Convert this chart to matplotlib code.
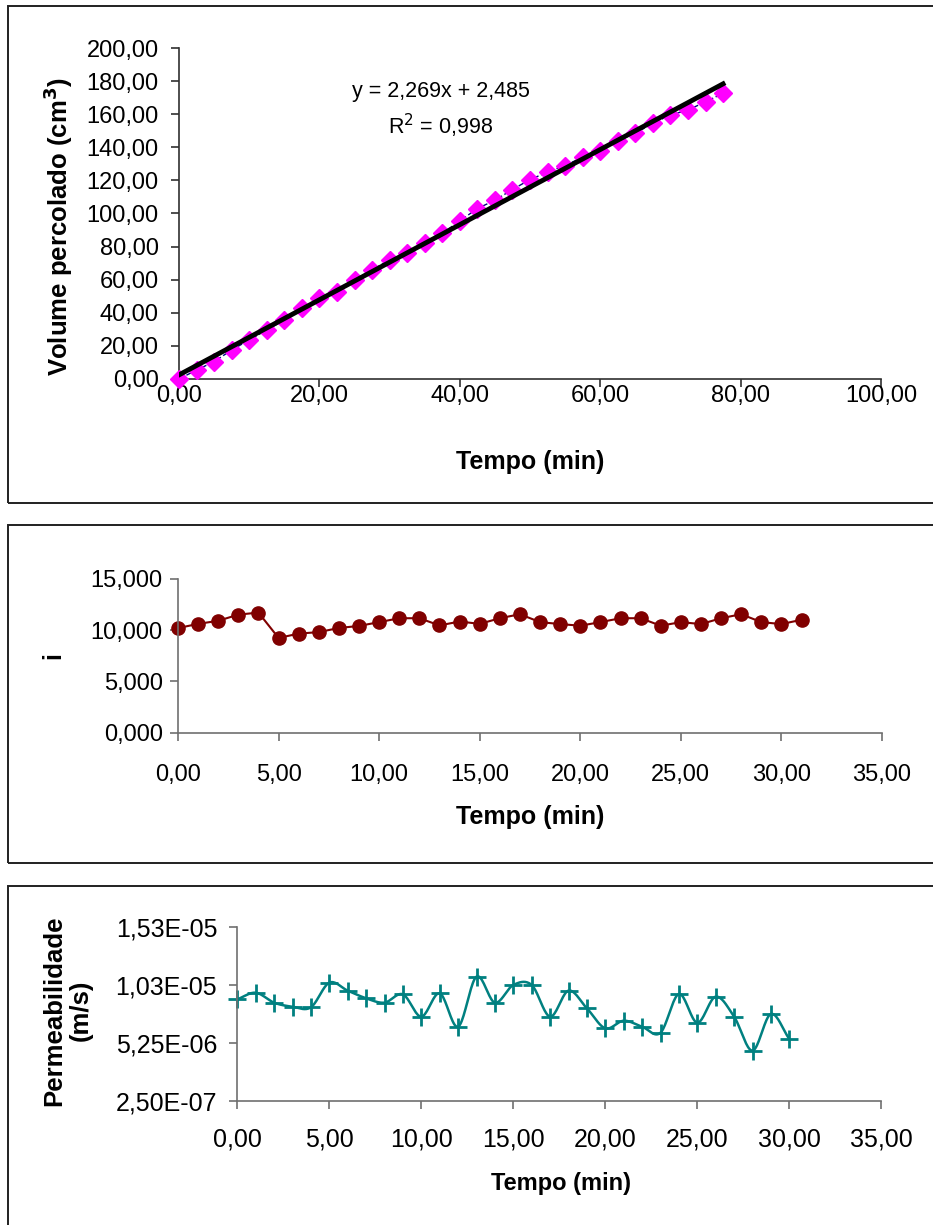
import numpy as np
import matplotlib.pyplot as plt
from matplotlib.patches import Rectangle
from matplotlib.ticker import FuncFormatter, MultipleLocator

plt.rcParams['font.family'] = ['Liberation Sans', 'DejaVu Sans']

# Volume percolado x tempo
tempo_vol = [0.0, 2.5, 5.0, 7.5, 10.0, 12.5, 15.0, 17.5, 20.0, 22.5, 25.0, 27.5,
             30.0, 32.5, 35.0, 37.5, 40.0, 42.5, 45.0, 47.5, 50.0, 52.5, 55.0,
             57.5, 60.0, 62.5, 65.0, 67.5, 70.0, 72.5, 75.0, 77.5]
volume = [0.0, 5.4, 10.5, 17.5, 23.6, 29.6, 35.6, 42.7, 48.8, 52.8, 59.8, 65.9,
          71.9, 75.9, 82.0, 88.0, 95.5, 103.0, 108.0, 114.5, 120.5, 125.0, 129.0,
          134.0, 138.0, 144.0, 148.5, 154.5, 159.5, 162.5, 167.5, 172.6]
slope, intercept, r2 = 2.269, 2.485, 0.998

# gradiente hidraulico i
tempo_i = [0, 1, 2, 3, 4, 5, 6, 7, 8, 9, 10, 11, 12, 13, 14, 15, 16, 17, 18, 19,
           20, 21, 22, 23, 24, 25, 26, 27, 28, 29, 30, 31]
grad_i = [10.19, 10.60, 10.90, 11.50, 11.70, 9.23, 9.65, 9.80, 10.20, 10.40,
          10.77, 11.15, 11.15, 10.45, 10.83, 10.60, 11.15, 11.54, 10.77, 10.58,
          10.42, 10.77, 11.15, 11.15, 10.42, 10.77, 10.58, 11.15, 11.54, 10.77,
          10.58, 11.00]

# permeabilidade (m/s)
tempo_k = [0, 1, 2, 3, 4, 5, 6, 7, 8, 9, 10, 11, 12, 13, 14, 15, 16, 17, 18, 19,
           20, 21, 22, 23, 24, 25, 26, 27, 28, 29, 30]
perm = [9.02, 9.59, 8.73, 8.38, 8.33, 10.46, 9.77, 9.11, 8.73, 9.45, 7.52, 9.54,
        6.65, 10.98, 8.73, 10.26, 10.26, 7.52, 9.77, 8.24, 6.51, 7.17, 6.65, 6.13,
        9.48, 7.00, 9.25, 7.52, 4.58, 7.75, 5.59]
perm = [v * 1e-6 for v in perm]
perm_ticks = [2.5e-7, 5.25e-6, 1.025e-5, 1.525e-5]
perm_ticklabels = ['2,50E-07', '5,25E-06', '1,03E-05', '1,53E-05']


def comma(fmt):
    return FuncFormatter(lambda v, pos: format(v, fmt).replace('.', ','))


def catmull_rom(x, y, n=20):
    # smoothed line through every point, like a spreadsheet "smoothed line"
    x = np.asarray(x, float)
    y = np.asarray(y, float)
    px = np.concatenate([[2 * x[0] - x[1]], x, [2 * x[-1] - x[-2]]])
    py = np.concatenate([[2 * y[0] - y[1]], y, [2 * y[-1] - y[-2]]])
    t = np.linspace(0, 1, n, endpoint=False)
    xs, ys = [], []
    for i in range(1, len(px) - 2):
        for p, out in ((px, xs), (py, ys)):
            p0, p1, p2, p3 = p[i - 1], p[i], p[i + 1], p[i + 2]
            out.extend(0.5 * (2 * p1 + (-p0 + p2) * t
                              + (2 * p0 - 5 * p1 + 4 * p2 - p3) * t ** 2
                              + (-p0 + 3 * p1 - 3 * p2 + p3) * t ** 3))
    xs.append(x[-1])
    ys.append(y[-1])
    return np.array(xs), np.array(ys)


def style_axes(ax, color, size, xpad, ypad):
    for s in ('top', 'right'):
        ax.spines[s].set_visible(False)
    for s in ('left', 'bottom'):
        ax.spines[s].set_color(color)
        ax.spines[s].set_linewidth(1.2)
    ax.tick_params(direction='out', length=6, width=1.2, color=color,
                   labelsize=size)
    ax.tick_params(axis='x', pad=xpad)
    ax.tick_params(axis='y', pad=ypad)


W, H = 933, 1225
fig = plt.figure(figsize=(W / 100, H / 100), dpi=100)

# chart frames
for top, bottom in ((6, 503), (525, 863), (886, 1240)):
    fig.add_artist(Rectangle((8 / W, 1 - bottom / H), 1.0, (bottom - top) / H,
                             transform=fig.transFigure, fill=False,
                             edgecolor='#202020', linewidth=1.4, clip_on=False))

# --- painel 1: volume percolado
ax1 = fig.add_axes([179 / W, 1 - 379 / H, 702 / W, 331 / H])
ax1.plot(tempo_vol, volume, color='#000080', lw=1, ls=(0, (4, 2)), zorder=2)
ax1.plot(tempo_vol, volume, ls='none', marker='D', ms=9, color='#FF00FF',
         mec='#FF00FF', zorder=3, clip_on=False)
fit_x = np.array([tempo_vol[0], tempo_vol[-1]])
ax1.plot(fit_x, slope * fit_x + intercept, color='black', lw=3.5, zorder=4)
ax1.set_xlim(0, 100)
ax1.set_ylim(0, 200)
ax1.xaxis.set_major_locator(MultipleLocator(20))
ax1.yaxis.set_major_locator(MultipleLocator(20))
ax1.xaxis.set_major_formatter(comma('.2f'))
ax1.yaxis.set_major_formatter(comma('.2f'))
style_axes(ax1, '#303030', 17, xpad=-2, ypad=8.5)
ax1.set_xlabel('Tempo (min)', fontsize=18, fontweight='bold')
ax1.set_ylabel('Volume percolado (cm$^\\mathbf{3}$)', fontsize=18.5,
               fontweight='bold')
ax1.xaxis.set_label_coords(0.5, -0.215)
ax1.yaxis.set_label_coords(-0.148, 0.46)
ax1.text(0.373, 0.87, f'y = {slope:.3f}x + {intercept:.3f}'.replace('.', ','),
         transform=ax1.transAxes, ha='center', va='center', fontsize=15.5)
ax1.text(0.373, 0.765, f'R$^2$ = {r2:.3f}'.replace('.', ','),
         transform=ax1.transAxes, ha='center', va='center', fontsize=15.5)

# --- painel 2: i
ax2 = fig.add_axes([178 / W, 1 - 732.7 / H, 704 / W, 154 / H])
ax2.plot(tempo_i, grad_i, color='#800000', lw=1.5, marker='o', ms=9.5,
         mfc='#800000', mec='#800000', clip_on=False)
ax2.set_xlim(0, 35)
ax2.set_ylim(0, 15)
ax2.xaxis.set_major_locator(MultipleLocator(5))
ax2.yaxis.set_major_locator(MultipleLocator(5))
ax2.xaxis.set_major_formatter(comma('.2f'))
ax2.yaxis.set_major_formatter(comma('.3f'))
style_axes(ax2, '#707070', 17, xpad=16.5, ypad=5)
ax2.set_xlabel('Tempo (min)', fontsize=18, fontweight='bold')
ax2.set_ylabel('i', fontsize=18, fontweight='bold')
ax2.xaxis.set_label_coords(0.5, -0.47)
ax2.yaxis.set_label_coords(-0.16, 0.5)

# --- painel 3: permeabilidade
ax3 = fig.add_axes([237.3 / W, 1 - 1100.7 / H, 644 / W, 173.4 / H])
sx, sy = catmull_rom(tempo_k, perm)
ax3.plot(sx, sy, color='#008080', lw=1.8)
ax3.plot(tempo_k, perm, ls='none', marker='+', ms=13, mew=2, color='#008080',
         clip_on=False)
ax3.set_xlim(0, 35)
ax3.set_ylim(perm_ticks[0], perm_ticks[-1])
ax3.set_yticks(perm_ticks)
ax3.set_yticklabels(perm_ticklabels)
ax3.xaxis.set_major_locator(MultipleLocator(5))
ax3.xaxis.set_major_formatter(comma('.2f'))
style_axes(ax3, '#707070', 18, xpad=13.5, ypad=8.5)
ax3.set_xlabel('Tempo (min)', fontsize=17, fontweight='bold')
ax3.set_ylabel('Permeabilidade\n(m/s)', fontsize=18.5, fontweight='bold',
               linespacing=1.1)
ax3.xaxis.set_label_coords(0.503, -0.41)
ax3.yaxis.set_label_coords(-0.225, 0.52)

fig.savefig('out.png', dpi=100)
